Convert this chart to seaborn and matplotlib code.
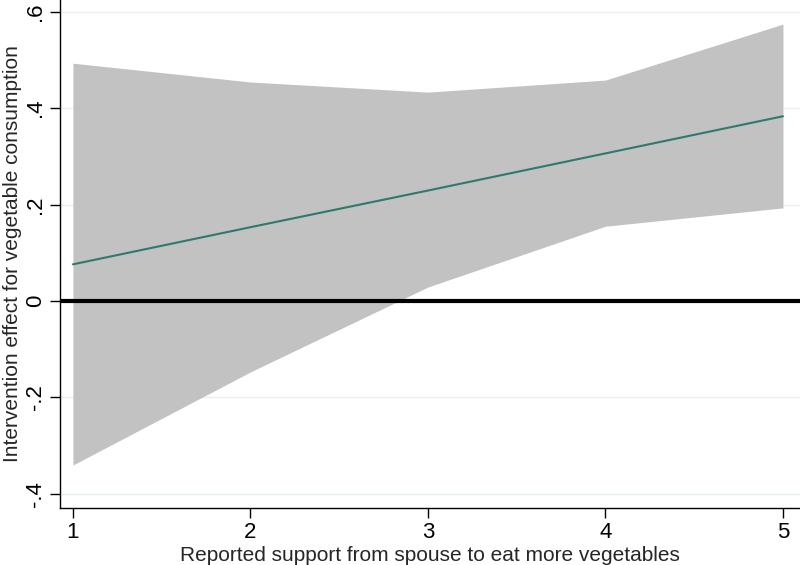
#!/usr/bin/env python
# marginal effect of the intervention by spouse support

import matplotlib
matplotlib.use("Agg")
import matplotlib.pyplot as plt
import pandas as pd
import seaborn as sns

support = [1, 2, 3, 4, 5]
effect = [0.076, 0.153, 0.229, 0.306, 0.383]
ci_upper = [0.493, 0.454, 0.433, 0.458, 0.574]
ci_lower = [-0.340, -0.147, 0.029, 0.155, 0.193]

y_ticks = [-0.4, -0.2, 0, 0.2, 0.4, 0.6]
y_tick_labels = ["-.4", "-.2", "0", ".2", ".4", ".6"]


def main():
    df = pd.DataFrame(
        {"support": support, "effect": effect, "lo": ci_lower, "hi": ci_upper}
    )

    sns.set_theme(style="white")
    plt.rcParams["font.family"] = ["Liberation Sans", "DejaVu Sans"]

    fig = plt.figure(figsize=(8, 5.65), dpi=100)
    ax = fig.add_axes([0.075, 0.101, 0.925, 0.899])

    # grid lines first, under everything
    for t in y_ticks:
        ax.axhline(t, color="#e6f0f1", lw=1, zorder=0)

    ax.fill_between(df["support"], df["lo"], df["hi"], color="#c2c2c2", lw=0, zorder=1)
    sns.lineplot(data=df, x="support", y="effect", ax=ax, color="#2f7a6c", lw=1.5, zorder=3)
    ax.axhline(0, color="black", lw=3, zorder=4)

    ax.set_xlim(0.927, 5.096)
    ax.set_ylim(-0.429, 0.624)
    ax.set_xticks(support)
    ax.set_yticks(y_ticks)
    ax.set_yticklabels(y_tick_labels, rotation=90, va="center")

    for side in ["top", "right"]:
        ax.spines[side].set_visible(False)
    for side in ["left", "bottom"]:
        ax.spines[side].set_color("black")
        ax.spines[side].set_linewidth(1)

    ax.tick_params(axis="both", direction="out", length=7, width=1, color="black",
                   labelsize=16, labelcolor="black", left=True, bottom=True, pad=3)
    ax.set_xlabel("Reported support from spouse to eat more vegetables",
                  fontsize=15, labelpad=2)
    ax.set_ylabel("Intervention effect for vegetable consumption",
                  fontsize=15, labelpad=2)

    fig.savefig("out.png", dpi=100)
    plt.close(fig)


if __name__ == "__main__":
    main()
